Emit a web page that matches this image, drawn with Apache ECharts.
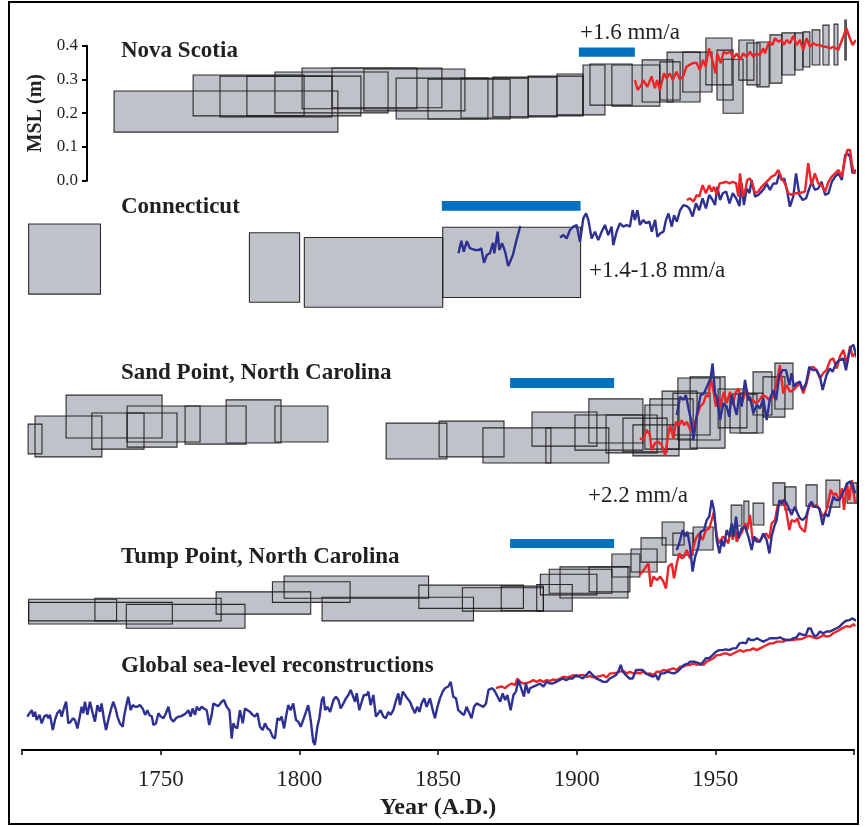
<!DOCTYPE html>
<html>
<head>
<meta charset="utf-8">
<script src="https://cdn.jsdelivr.net/npm/echarts@6/dist/echarts.min.js"></script>
<style>
  html, body { margin: 0; padding: 0; background: #fff; }
  #myChart { width: 867px; height: 827px; }
</style>
</head>
<body>
<div id="myChart"></div>
<script>
// box = [age from, age to, MSL top, MSL bottom] (m)
const nsBoxes = [
  [1733.2, 1813.9, 0.266, 0.144], [1761.7, 1801.7, 0.313, 0.192], [1771.4, 1811.8, 0.310, 0.189],
  [1781.1, 1822.2, 0.310, 0.192], [1791.2, 1832.0, 0.322, 0.201], [1801.0, 1842.4, 0.334, 0.213],
  [1811.8, 1851.4, 0.334, 0.216], [1823.3, 1859.7, 0.331, 0.207], [1834.9, 1868.0, 0.304, 0.183],
  [1846.4, 1876.0, 0.301, 0.183], [1858.3, 1882.5, 0.304, 0.186], [1869.8, 1892.9, 0.307, 0.189],
  [1882.5, 1902.3, 0.310, 0.192], [1892.9, 1902.3, 0.316, 0.195], [1902.3, 1910.2, 0.343, 0.195],
  [1904.8, 1920.0, 0.346, 0.224], [1912.7, 1930.0, 0.343, 0.221], [1923.6, 1934.7, 0.358, 0.233],
  [1930.0, 1937.3, 0.352, 0.239], [1932.6, 1944.5, 0.381, 0.233], [1938.3, 1948.8, 0.381, 0.263],
  [1946.6, 1956.0, 0.423, 0.284], [1950.6, 1956.4, 0.387, 0.239], [1952.8, 1960.0, 0.360, 0.200],
  [1958.5, 1963.9, 0.417, 0.298], [1961.4, 1966.1, 0.408, 0.284], [1965.0, 1969.4, 0.411, 0.278],
  [1969.7, 1974.0, 0.432, 0.289], [1974.0, 1978.7, 0.438, 0.313], [1978.7, 1981.6, 0.438, 0.328],
  [1981.6, 1984.1, 0.441, 0.337], [1984.9, 1987.7, 0.447, 0.343], [1988.8, 1991.0, 0.461, 0.343],
  [1992.8, 1994.2, 0.464, 0.343], [1996.7, 1997.2, 0.476, 0.358]
];
const nsRed = [
  [1921, 0.298], [1922, 0.269], [1923.4, 0.284], [1924, 0.298], [1925.5, 0.278], [1927, 0.309],
  [1928.2, 0.274], [1929, 0.298], [1930, 0.269], [1931.5, 0.318], [1932.4, 0.303], [1933.6, 0.318],
  [1934.6, 0.298], [1936, 0.323], [1937.2, 0.300], [1938.4, 0.309], [1939.6, 0.338], [1941.8, 0.348],
  [1943.2, 0.350], [1944.4, 0.328], [1945.6, 0.358], [1946.5, 0.338], [1947.7, 0.392], [1948.6, 0.367],
  [1950.1, 0.318], [1950.7, 0.377], [1951.9, 0.348], [1953, 0.382], [1954, 0.377], [1955.5, 0.382],
  [1956.5, 0.363], [1957.7, 0.377], [1958.9, 0.358], [1960, 0.377], [1961.3, 0.367], [1962.5, 0.382],
  [1963.7, 0.367], [1964.9, 0.377], [1966, 0.372], [1967.3, 0.392], [1967.9, 0.377], [1969.4, 0.412],
  [1970.6, 0.402], [1971.5, 0.422], [1972.7, 0.412], [1973.9, 0.417], [1974.7, 0.402], [1975.7, 0.417],
  [1976.9, 0.407], [1978.1, 0.429], [1979.3, 0.402], [1980.5, 0.417], [1981.7, 0.387], [1982.9, 0.422],
  [1984.1, 0.397], [1985.3, 0.407], [1986.5, 0.402], [1987.7, 0.402], [1988.9, 0.397], [1990.1, 0.397],
  [1991.3, 0.392], [1992.5, 0.397], [1994.3, 0.387], [1995.9, 0.422], [1997.3, 0.451], [1998.5, 0.422],
  [1999.5, 0.402], [2000.7, 0.417]
];

const ctBoxes = [
  [1702.4, 1728.3, 0.255, 0.047], [1782.0, 1800.1, 0.229, 0.023],
  [1801.8, 1851.7, 0.215, 0.008], [1851.7, 1901.4, 0.245, 0.037]
];
const ctBlueEarly = [
  [1857.4, 0.168], [1858.4, 0.205], [1859.3, 0.173], [1860.4, 0.204], [1861.5, 0.183], [1863.2, 0.178],
  [1864.8, 0.178], [1865.6, 0.183], [1866.6, 0.140], [1867.6, 0.163], [1868.7, 0.168], [1869.8, 0.199],
  [1870.3, 0.168], [1871.5, 0.232], [1872.1, 0.178], [1873.1, 0.198], [1874.2, 0.173], [1875.3, 0.130],
  [1877.0, 0.163], [1878.3, 0.207], [1879.7, 0.249]
];
const ctBlue = [
  [1894.0, 0.215], [1895.2, 0.222], [1896.4, 0.212], [1897.6, 0.237], [1898.8, 0.247], [1900.0, 0.252],
  [1901.2, 0.202], [1902.4, 0.272], [1903.4, 0.286], [1904.2, 0.267], [1905.4, 0.212], [1906.6, 0.232],
  [1907.8, 0.207], [1909.0, 0.232], [1910.2, 0.252], [1911.4, 0.222], [1912.6, 0.247], [1913.2, 0.192],
  [1914.4, 0.232], [1915.6, 0.257], [1916.8, 0.247], [1918.0, 0.252], [1919.2, 0.247], [1920.2, 0.296],
  [1921.0, 0.267], [1921.9, 0.296], [1922.8, 0.252], [1924.0, 0.267], [1925.0, 0.257], [1926.2, 0.262],
  [1927.1, 0.232], [1928.3, 0.267], [1929.1, 0.217], [1930.1, 0.227], [1931.3, 0.232], [1932.2, 0.267],
  [1933.1, 0.286], [1934.3, 0.247], [1935.1, 0.281], [1936.1, 0.262], [1937.3, 0.296], [1938.5, 0.311],
  [1939.7, 0.308], [1940.6, 0.301], [1941.8, 0.277], [1943.0, 0.316], [1944.2, 0.296], [1945.4, 0.331],
  [1946.6, 0.301], [1947.8, 0.341], [1949.0, 0.326], [1949.9, 0.311], [1950.7, 0.365], [1951.7, 0.326],
  [1952.7, 0.346], [1953.9, 0.351], [1955.1, 0.316], [1956.3, 0.346], [1957.5, 0.331], [1958.7, 0.308],
  [1959.5, 0.375], [1960.3, 0.311], [1961.3, 0.360], [1962.3, 0.346], [1963.1, 0.385], [1964.3, 0.336],
  [1965.5, 0.341], [1966.7, 0.351], [1967.6, 0.360], [1968.5, 0.375], [1969.7, 0.356], [1970.9, 0.375],
  [1972.1, 0.375], [1973.1, 0.405], [1973.9, 0.385], [1974.8, 0.390], [1975.7, 0.360], [1976.9, 0.306],
  [1978.1, 0.336], [1979.1, 0.405], [1980.3, 0.341], [1981.5, 0.326], [1982.7, 0.331], [1983.9, 0.360],
  [1984.7, 0.380], [1985.9, 0.356], [1987.1, 0.360], [1988.3, 0.380], [1989.6, 0.341], [1990.8, 0.346],
  [1992.0, 0.380], [1993.2, 0.395], [1994.4, 0.405], [1995.6, 0.385], [1996.8, 0.459], [1997.6, 0.464],
  [1998.6, 0.454], [1999.5, 0.405], [2000.7, 0.415]
];
const ctRed = [
  [1939.7, 0.326], [1940.9, 0.331], [1942.1, 0.321], [1943.3, 0.341], [1944.2, 0.336], [1945.4, 0.370],
  [1946.6, 0.346], [1947.8, 0.370], [1948.7, 0.351], [1949.5, 0.365], [1950.5, 0.341], [1951.5, 0.375],
  [1952.7, 0.377], [1953.9, 0.380], [1955.1, 0.375], [1956.3, 0.380], [1957.5, 0.375], [1958.3, 0.336],
  [1958.9, 0.405], [1959.9, 0.336], [1960.7, 0.351], [1961.5, 0.385], [1962.5, 0.390], [1963.5, 0.370],
  [1964.3, 0.346], [1965.5, 0.351], [1966.7, 0.365], [1967.9, 0.375], [1969.1, 0.385], [1970.3, 0.395],
  [1971.5, 0.400], [1972.7, 0.415], [1973.9, 0.390], [1975.1, 0.375], [1976.3, 0.346], [1977.5, 0.341],
  [1978.7, 0.346], [1979.9, 0.346], [1981.1, 0.348], [1982.3, 0.351], [1983.5, 0.435], [1984.7, 0.370],
  [1985.9, 0.405], [1987.1, 0.375], [1988.3, 0.370], [1989.6, 0.351], [1990.8, 0.380], [1992.0, 0.395],
  [1993.2, 0.405], [1994.4, 0.415], [1995.6, 0.395], [1996.8, 0.449], [1997.6, 0.474], [1998.6, 0.474],
  [1999.2, 0.435], [2000.0, 0.405], [2000.7, 0.410]
];

const spBoxes = [
  [1702.2, 1707.2, 0.121, 0.033], [1704.7, 1728.8, 0.145, 0.024], [1715.9, 1750.5, 0.207, 0.080],
  [1725.2, 1744.0, 0.154, 0.047], [1737.9, 1755.9, 0.154, 0.053], [1737.9, 1764.2, 0.175, 0.068],
  [1758.8, 1780.8, 0.175, 0.062], [1773.6, 1793.4, 0.193, 0.065], [1791.2, 1810.3, 0.175, 0.068],
  [1831.3, 1853.2, 0.124, 0.018], [1850.4, 1873.8, 0.130, 0.024], [1866.2, 1890.7, 0.110, 0.006],
  [1883.9, 1907.3, 0.157, 0.056], [1888.9, 1911.6, 0.110, 0.006], [1899.4, 1923.9, 0.148, 0.044],
  [1904.4, 1923.9, 0.196, 0.065], [1910.6, 1929.0, 0.148, 0.036], [1916.7, 1932.6, 0.139, 0.039],
  [1920.3, 1936.9, 0.119, 0.027], [1924.6, 1936.9, 0.178, 0.047], [1926.4, 1942.0, 0.196, 0.077],
  [1930.8, 1943.4, 0.219, 0.047], [1934.7, 1948.1, 0.213, 0.089], [1936.5, 1951.7, 0.258, 0.074],
  [1940.9, 1953.5, 0.261, 0.050], [1951.0, 1961.4, 0.225, 0.110], [1955.3, 1965.0, 0.210, 0.095],
  [1958.9, 1967.2, 0.213, 0.095], [1963.6, 1970.4, 0.276, 0.148], [1967.2, 1975.1, 0.261, 0.142],
  [1971.5, 1978.0, 0.302, 0.166]
];
const spBlue = [
  [1936.1, 0.148], [1937.3, 0.202], [1938.5, 0.193], [1939.4, 0.207], [1940.3, 0.168], [1941.5, 0.123],
  [1942.1, 0.074], [1943.3, 0.148], [1944.7, 0.207], [1945.9, 0.212], [1947.5, 0.242], [1948.3, 0.257],
  [1949.0, 0.301], [1949.9, 0.212], [1950.7, 0.197], [1951.7, 0.133], [1952.9, 0.183], [1954.1, 0.173],
  [1955.0, 0.143], [1955.9, 0.207], [1956.7, 0.178], [1957.7, 0.148], [1958.7, 0.212], [1959.5, 0.173],
  [1960.7, 0.252], [1961.9, 0.192], [1962.5, 0.202], [1963.7, 0.153], [1964.9, 0.178], [1966.1, 0.168],
  [1967.3, 0.197], [1968.5, 0.133], [1969.7, 0.197], [1970.9, 0.222], [1971.9, 0.192], [1973.1, 0.267],
  [1974.3, 0.281], [1975.5, 0.281], [1976.7, 0.237], [1977.5, 0.272], [1978.4, 0.232], [1979.3, 0.242],
  [1980.5, 0.247], [1981.5, 0.222], [1982.7, 0.242], [1983.9, 0.291], [1985.1, 0.281], [1986.5, 0.281],
  [1987.7, 0.262], [1988.7, 0.222], [1990.1, 0.267], [1991.3, 0.286], [1992.3, 0.276], [1993.5, 0.301],
  [1994.7, 0.311], [1996.2, 0.316], [1997.1, 0.281], [1998.0, 0.321], [1998.8, 0.350], [1999.8, 0.356],
  [2001.0, 0.318]
];
const spRed = [
  [1922.8, 0.079], [1924.0, 0.074], [1925.2, 0.104], [1926.4, 0.089], [1927.0, 0.044], [1928.2, 0.064],
  [1929.4, 0.069], [1930.7, 0.059], [1931.9, 0.029], [1932.7, 0.074], [1933.7, 0.118], [1934.3, 0.113],
  [1934.9, 0.079], [1935.8, 0.128], [1937.0, 0.118], [1937.9, 0.133], [1938.7, 0.118], [1939.7, 0.128],
  [1940.9, 0.104], [1942.1, 0.113], [1943.3, 0.143], [1944.5, 0.173], [1945.7, 0.183], [1946.6, 0.207],
  [1947.5, 0.202], [1948.3, 0.257], [1949.3, 0.222], [1950.2, 0.173], [1951.1, 0.202], [1951.9, 0.173],
  [1953.1, 0.217], [1954.1, 0.183], [1955.3, 0.217], [1956.3, 0.178], [1957.2, 0.212], [1958.3, 0.227],
  [1959.5, 0.183], [1960.7, 0.212], [1961.3, 0.222], [1962.3, 0.192], [1963.5, 0.192], [1964.7, 0.183],
  [1965.9, 0.192], [1967.1, 0.207], [1968.3, 0.202], [1969.5, 0.192], [1970.9, 0.202], [1972.1, 0.242],
  [1973.3, 0.296], [1974.5, 0.212], [1975.7, 0.237], [1976.9, 0.217], [1978.1, 0.222], [1979.3, 0.232],
  [1980.5, 0.242], [1981.7, 0.212], [1982.9, 0.242], [1984.1, 0.286], [1985.3, 0.291], [1986.5, 0.281],
  [1987.7, 0.257], [1988.9, 0.272], [1990.1, 0.281], [1991.4, 0.311], [1992.5, 0.316], [1993.8, 0.286],
  [1994.9, 0.321], [1996.2, 0.341], [1997.4, 0.301], [1998.6, 0.352], [1999.5, 0.321], [2000.4, 0.331]
];

const tpBoxes = [
  [1702.4, 1734.1, 0.091, 0.027], [1702.4, 1754.2, 0.082, 0.018], [1726.3, 1771.8, 0.094, 0.027],
  [1737.6, 1780.4, 0.076, 0.005], [1770.0, 1804.1, 0.113, 0.047], [1790.3, 1818.3, 0.143, 0.082],
  [1794.5, 1846.6, 0.160, 0.094], [1808.2, 1862.8, 0.097, 0.027], [1843.1, 1880.8, 0.133, 0.064],
  [1858.8, 1888.0, 0.125, 0.056], [1872.8, 1888.0, 0.130, 0.057], [1885.6, 1898.4, 0.135, 0.056],
  [1886.9, 1907.3, 0.165, 0.104], [1890.1, 1912.7, 0.180, 0.109], [1894.0, 1918.5, 0.187, 0.095],
  [1904.5, 1919.2, 0.187, 0.113], [1912.7, 1922.8, 0.225, 0.157], [1919.6, 1929.0, 0.240, 0.172],
  [1923.2, 1932.2, 0.273, 0.201], [1930.8, 1938.7, 0.320, 0.252], [1934.7, 1942.0, 0.287, 0.222],
  [1942.0, 1949.2, 0.305, 0.237], [1955.7, 1959.6, 0.370, 0.308], [1960.3, 1962.1, 0.382, 0.314],
  [1963.6, 1967.5, 0.376, 0.311], [1970.8, 1975.1, 0.436, 0.370], [1975.1, 1979.1, 0.424, 0.356],
  [1982.7, 1986.7, 0.430, 0.367], [1989.9, 1994.9, 0.444, 0.364], [1997.5, 2001.1, 0.436, 0.376]
];
const tpBlue = [
  [1936.1, 0.237], [1937.0, 0.257], [1938.2, 0.296], [1939.1, 0.277], [1939.9, 0.291], [1940.9, 0.247],
  [1941.8, 0.173], [1942.7, 0.217], [1943.9, 0.247], [1944.7, 0.291], [1945.9, 0.296], [1946.9, 0.326],
  [1947.8, 0.336], [1948.7, 0.385], [1949.5, 0.356], [1950.5, 0.267], [1951.5, 0.227], [1952.3, 0.267],
  [1953.1, 0.247], [1954.1, 0.296], [1955.1, 0.277], [1955.9, 0.316], [1956.5, 0.277], [1957.5, 0.336],
  [1958.3, 0.272], [1959.5, 0.301], [1960.7, 0.306], [1961.9, 0.277], [1963.1, 0.237], [1964.0, 0.277],
  [1964.9, 0.262], [1966.1, 0.262], [1967.3, 0.286], [1968.5, 0.267], [1969.5, 0.227], [1970.3, 0.277],
  [1971.2, 0.306], [1972.1, 0.326], [1973.1, 0.385], [1973.9, 0.375], [1974.8, 0.385], [1975.7, 0.375],
  [1976.7, 0.356], [1977.5, 0.341], [1978.7, 0.365], [1979.6, 0.346], [1980.5, 0.331], [1981.5, 0.326],
  [1982.7, 0.336], [1983.9, 0.370], [1984.7, 0.380], [1985.6, 0.365], [1986.5, 0.365], [1987.5, 0.360],
  [1988.7, 0.311], [1989.6, 0.346], [1990.8, 0.336], [1991.6, 0.365], [1992.6, 0.395], [1993.5, 0.385],
  [1994.7, 0.385], [1995.6, 0.400], [1996.8, 0.420], [1997.6, 0.435], [1998.6, 0.440], [1999.5, 0.430],
  [2000.4, 0.405]
];
const tpRed = [
  [1922.6, 0.163], [1923.8, 0.173], [1925.0, 0.188], [1925.9, 0.197], [1926.7, 0.128], [1927.7, 0.158],
  [1928.9, 0.148], [1930.1, 0.158], [1931.3, 0.143], [1932.2, 0.123], [1933.1, 0.188], [1934.3, 0.197],
  [1935.1, 0.153], [1936.1, 0.197], [1937.0, 0.227], [1937.9, 0.212], [1938.7, 0.217], [1939.7, 0.237],
  [1940.9, 0.212], [1941.8, 0.237], [1943.0, 0.272], [1944.2, 0.286], [1945.4, 0.267], [1946.6, 0.296],
  [1947.8, 0.301], [1948.7, 0.326], [1949.5, 0.351], [1950.5, 0.277], [1951.5, 0.257], [1952.7, 0.277],
  [1953.9, 0.267], [1954.7, 0.257], [1955.5, 0.301], [1956.3, 0.267], [1957.1, 0.306], [1957.7, 0.262],
  [1958.7, 0.277], [1959.9, 0.296], [1960.7, 0.316], [1961.5, 0.296], [1962.5, 0.341], [1963.5, 0.262],
  [1964.7, 0.272], [1965.9, 0.262], [1967.1, 0.277], [1968.3, 0.286], [1969.5, 0.272], [1970.3, 0.316],
  [1971.5, 0.326], [1972.4, 0.365], [1973.3, 0.375], [1974.3, 0.385], [1975.5, 0.356], [1976.7, 0.296],
  [1977.5, 0.326], [1978.7, 0.321], [1979.6, 0.331], [1980.5, 0.306], [1981.5, 0.296], [1982.3, 0.291],
  [1983.2, 0.346], [1984.1, 0.375], [1985.3, 0.365], [1986.5, 0.370], [1987.5, 0.360], [1988.7, 0.336],
  [1989.6, 0.346], [1990.4, 0.365], [1991.6, 0.415], [1992.6, 0.400], [1993.5, 0.405], [1994.7, 0.385],
  [1995.6, 0.420], [1996.4, 0.356], [1997.4, 0.435], [1998.3, 0.385], [1999.2, 0.444], [1999.8, 0.449],
  [2000.4, 0.375]
];

const globalBlue = [
  [1701.9, 0.099], [1702.6, 0.094], [1703.5, 0.118], [1704.1, 0.099], [1704.7, 0.113], [1705.3, 0.089],
  [1706.3, 0.104], [1707.1, 0.079], [1708.0, 0.099], [1708.9, 0.104], [1709.5, 0.094], [1710.1, 0.104],
  [1711.1, 0.059], [1711.9, 0.089], [1712.7, 0.109], [1713.7, 0.118], [1714.3, 0.099], [1715.1, 0.123],
  [1715.9, 0.143], [1716.7, 0.079], [1717.6, 0.084], [1718.3, 0.094], [1719.1, 0.089], [1720.0, 0.064],
  [1720.7, 0.069], [1721.5, 0.128], [1722.1, 0.109], [1722.7, 0.143], [1723.6, 0.104], [1724.5, 0.143],
  [1725.5, 0.109], [1726.3, 0.084], [1727.2, 0.133], [1728.1, 0.113], [1728.7, 0.138], [1729.6, 0.089],
  [1730.3, 0.059], [1731.1, 0.089], [1732.0, 0.118], [1732.9, 0.143], [1733.9, 0.118], [1734.4, 0.099],
  [1735.3, 0.079], [1736.3, 0.069], [1736.8, 0.099], [1737.5, 0.128], [1738.3, 0.158], [1739.2, 0.118],
  [1739.9, 0.133], [1740.8, 0.128], [1741.6, 0.128], [1742.5, 0.133], [1743.5, 0.123], [1744.4, 0.104],
  [1745.2, 0.118], [1745.9, 0.104], [1746.8, 0.099], [1747.4, 0.074], [1748.3, 0.079], [1749.2, 0.109],
  [1750.0, 0.099], [1751.0, 0.094], [1751.9, 0.109], [1752.8, 0.128], [1753.6, 0.094], [1754.6, 0.084],
  [1755.5, 0.094], [1756.4, 0.099], [1757.2, 0.099], [1758.2, 0.104], [1759.1, 0.109], [1760.0, 0.118],
  [1760.8, 0.099], [1761.5, 0.123], [1762.4, 0.104], [1763.0, 0.128], [1763.9, 0.118], [1764.8, 0.128],
  [1765.6, 0.123], [1766.6, 0.118], [1767.5, 0.074], [1768.4, 0.104], [1769.0, 0.138], [1770.0, 0.133],
  [1770.8, 0.130], [1772.0, 0.143], [1772.8, 0.148], [1773.8, 0.128], [1774.8, 0.118], [1775.6, 0.034],
  [1776.2, 0.079], [1776.8, 0.069], [1777.6, 0.064], [1778.6, 0.118], [1779.6, 0.079], [1780.4, 0.123],
  [1781.3, 0.118], [1782.2, 0.113], [1783.2, 0.104], [1784.0, 0.099], [1784.9, 0.109], [1785.8, 0.069],
  [1786.8, 0.059], [1787.6, 0.079], [1788.5, 0.064], [1789.4, 0.059], [1790.4, 0.039], [1791.2, 0.034],
  [1792.1, 0.094], [1793.0, 0.089], [1793.6, 0.099], [1794.5, 0.064], [1795.2, 0.099], [1796.0, 0.133],
  [1796.9, 0.118], [1797.8, 0.138], [1798.8, 0.089], [1799.6, 0.084], [1800.5, 0.069], [1801.4, 0.089],
  [1802.4, 0.113], [1803.2, 0.133], [1804.1, 0.089], [1805.0, 0.025], [1805.6, 0.015], [1806.5, 0.069],
  [1807.2, 0.094], [1808.1, 0.148], [1808.7, 0.158], [1809.3, 0.118], [1810.1, 0.128], [1811.1, 0.113],
  [1812.3, 0.148], [1813.2, 0.158], [1814.1, 0.148], [1814.9, 0.123], [1815.9, 0.138], [1816.8, 0.153],
  [1817.7, 0.163], [1818.5, 0.178], [1819.2, 0.163], [1820.1, 0.143], [1820.7, 0.168], [1821.6, 0.118],
  [1822.5, 0.143], [1823.3, 0.163], [1824.3, 0.163], [1824.9, 0.173], [1825.7, 0.133], [1826.7, 0.163],
  [1827.6, 0.099], [1828.5, 0.109], [1829.3, 0.118], [1830.3, 0.099], [1831.2, 0.094], [1832.1, 0.113],
  [1832.9, 0.104], [1833.9, 0.118], [1834.9, 0.148], [1835.7, 0.168], [1836.3, 0.133], [1837.3, 0.173],
  [1838.1, 0.163], [1838.9, 0.153], [1839.9, 0.143], [1840.9, 0.123], [1841.7, 0.109], [1842.5, 0.128],
  [1843.3, 0.113], [1844.1, 0.138], [1845.0, 0.153], [1845.9, 0.128], [1847.1, 0.153], [1848.1, 0.118],
  [1848.9, 0.094], [1849.8, 0.128], [1850.7, 0.153], [1851.7, 0.173], [1852.5, 0.183], [1853.7, 0.188],
  [1854.6, 0.202], [1855.5, 0.158], [1856.5, 0.153], [1857.3, 0.118], [1858.5, 0.109], [1859.4, 0.104],
  [1860.3, 0.128], [1861.3, 0.109], [1862.1, 0.094], [1863.0, 0.128], [1863.9, 0.138], [1865.1, 0.133],
  [1866.4, 0.128], [1867.3, 0.138], [1868.2, 0.178], [1869.4, 0.183], [1870.2, 0.178], [1871.2, 0.163],
  [1872.4, 0.143], [1873.3, 0.168], [1874.2, 0.148], [1875.0, 0.163], [1876.2, 0.118], [1877.2, 0.163],
  [1878.1, 0.173], [1879.0, 0.207], [1880.2, 0.178], [1881.0, 0.158], [1881.7, 0.197], [1882.6, 0.168],
  [1883.2, 0.183], [1884.4, 0.188], [1885.6, 0.192], [1886.8, 0.197], [1888.0, 0.188], [1889.2, 0.202],
  [1890.4, 0.197], [1891.4, 0.197], [1892.6, 0.202], [1893.8, 0.207], [1895.0, 0.212], [1896.2, 0.207],
  [1897.4, 0.212], [1898.6, 0.212], [1899.8, 0.222], [1901.0, 0.217], [1902.2, 0.212], [1903.4, 0.222],
  [1904.6, 0.232], [1905.8, 0.222], [1907.0, 0.212], [1908.4, 0.207], [1909.6, 0.202], [1910.8, 0.202],
  [1912.0, 0.212], [1913.2, 0.217], [1914.2, 0.222], [1915.0, 0.232], [1915.9, 0.252], [1916.6, 0.232],
  [1917.8, 0.222], [1919.0, 0.212], [1920.2, 0.212], [1921.4, 0.237], [1922.6, 0.237], [1923.8, 0.237],
  [1925.0, 0.227], [1926.2, 0.222], [1927.4, 0.217], [1928.6, 0.222], [1929.4, 0.207], [1930.3, 0.227],
  [1931.5, 0.227], [1932.7, 0.232], [1933.9, 0.229], [1935.1, 0.227], [1936.3, 0.232], [1937.5, 0.242],
  [1938.7, 0.252], [1939.9, 0.255], [1941.1, 0.262], [1942.3, 0.262], [1943.5, 0.259], [1944.7, 0.252],
  [1945.7, 0.262], [1946.6, 0.272], [1947.8, 0.272], [1949.0, 0.281], [1950.2, 0.291], [1951.4, 0.296],
  [1952.6, 0.296], [1953.8, 0.298], [1955.0, 0.296], [1956.3, 0.301], [1957.5, 0.301], [1958.7, 0.316],
  [1959.9, 0.318], [1961.1, 0.316], [1961.9, 0.331], [1962.7, 0.326], [1963.9, 0.326], [1965.1, 0.331],
  [1966.1, 0.326], [1967.3, 0.321], [1968.5, 0.326], [1969.7, 0.331], [1970.9, 0.331], [1972.1, 0.331],
  [1973.3, 0.334], [1974.5, 0.328], [1975.7, 0.326], [1976.9, 0.326], [1978.1, 0.331], [1979.3, 0.334],
  [1980.3, 0.346], [1981.5, 0.341], [1982.7, 0.341], [1983.5, 0.360], [1984.4, 0.360], [1985.1, 0.346],
  [1985.9, 0.336], [1986.8, 0.341], [1987.7, 0.351], [1988.9, 0.346], [1990.1, 0.351], [1991.4, 0.351],
  [1992.5, 0.356], [1993.5, 0.360], [1994.7, 0.365], [1995.9, 0.375], [1997.1, 0.383], [1998.3, 0.385],
  [1999.5, 0.390], [2000.7, 0.383]
];
const globalRed = [
  [1870.9, 0.183], [1871.8, 0.186], [1873.0, 0.188], [1874.2, 0.183], [1875.4, 0.192], [1876.6, 0.197],
  [1877.8, 0.192], [1878.6, 0.212], [1879.6, 0.202], [1880.8, 0.197], [1882.0, 0.199], [1883.2, 0.202],
  [1884.4, 0.207], [1885.6, 0.202], [1886.8, 0.207], [1888.0, 0.202], [1889.2, 0.207], [1890.4, 0.205],
  [1891.6, 0.209], [1892.8, 0.207], [1894.0, 0.212], [1895.2, 0.217], [1896.4, 0.215], [1897.6, 0.217],
  [1898.8, 0.222], [1900.0, 0.217], [1901.2, 0.222], [1902.4, 0.222], [1903.6, 0.217], [1904.8, 0.219],
  [1906.0, 0.215], [1907.2, 0.217], [1908.4, 0.219], [1909.6, 0.222], [1910.8, 0.215], [1912.0, 0.227],
  [1913.2, 0.227], [1914.4, 0.229], [1915.6, 0.232], [1916.8, 0.235], [1918.0, 0.227], [1919.2, 0.232],
  [1920.4, 0.227], [1921.6, 0.229], [1922.8, 0.227], [1924.0, 0.232], [1925.2, 0.225], [1926.4, 0.227],
  [1927.6, 0.222], [1928.9, 0.232], [1930.1, 0.232], [1931.3, 0.237], [1932.5, 0.235], [1933.7, 0.239],
  [1934.9, 0.242], [1936.1, 0.237], [1937.3, 0.247], [1938.5, 0.247], [1939.7, 0.252], [1940.9, 0.252],
  [1942.1, 0.257], [1943.3, 0.252], [1944.5, 0.257], [1945.7, 0.252], [1946.9, 0.262], [1948.1, 0.267],
  [1949.3, 0.272], [1950.5, 0.281], [1951.7, 0.281], [1952.9, 0.286], [1954.1, 0.286], [1955.3, 0.281],
  [1956.5, 0.286], [1957.7, 0.291], [1958.9, 0.296], [1960.1, 0.291], [1961.3, 0.296], [1962.5, 0.296],
  [1963.7, 0.301], [1964.9, 0.296], [1966.1, 0.301], [1967.3, 0.306], [1968.5, 0.311], [1969.7, 0.316],
  [1970.9, 0.316], [1972.1, 0.321], [1973.3, 0.321], [1974.5, 0.321], [1975.7, 0.326], [1976.9, 0.326],
  [1978.1, 0.326], [1979.3, 0.328], [1980.5, 0.328], [1981.7, 0.331], [1982.9, 0.336], [1984.1, 0.338],
  [1985.3, 0.334], [1986.5, 0.331], [1987.7, 0.334], [1988.9, 0.341], [1990.1, 0.336], [1991.3, 0.338],
  [1992.5, 0.346], [1993.7, 0.351], [1994.9, 0.356], [1996.2, 0.363], [1997.4, 0.367], [1998.6, 0.365],
  [1999.8, 0.373], [2000.4, 0.367]
];

// blue bars: period used for the rate [from, to, top, bottom]
const nsPeriod = [[1900.8, 1921.0, 0.395, 0.367]];
const ctPeriod = [[1851.4, 1901.4, 0.323, 0.294]];
const spPeriod = [[1876.0, 1913.5, 0.258, 0.228]];
const tpPeriod = [[1876.0, 1913.5, 0.270, 0.243]];

const panelNames = ['Nova Scotia', 'Connecticut', 'Sand Point, North Carolina',
  'Tump Point, North Carolina', 'Global sea-level reconstructions'];
const rateLabels = ['+1.6 mm/a', '+1.4-1.8 mm/a', '+2.2 mm/a'];

const FONT = '"Liberation Serif", "Times New Roman", serif';
const INK = '#231f20';
const RED = '#ed2529';
const BLUE = '#2e3192';
const BAR = '#0071bc';

function rectItem(fill, stroke, lw) {
  return function (params, api) {
    const a = api.coord([api.value(0), api.value(2)]);
    const b = api.coord([api.value(1), api.value(3)]);
    return {
      type: 'rect',
      shape: { x: a[0], y: a[1], width: b[0] - a[0], height: b[1] - a[1] },
      style: { fill: fill, stroke: stroke, lineWidth: lw }
    };
  };
}

function boxes(i, data) {
  return [
    { type: 'custom', xAxisIndex: i, yAxisIndex: i, data: data, encode: { x: [0, 1], y: [2, 3] },
      renderItem: rectItem('#c0c2c9', null, 0), z: 2, silent: true },
    { type: 'custom', xAxisIndex: i, yAxisIndex: i, data: data, encode: { x: [0, 1], y: [2, 3] },
      renderItem: rectItem('none', 'rgba(25,25,25,0.9)', 1.1), z: 3, silent: true }
  ];
}
function period(i, data) {
  return { type: 'custom', xAxisIndex: i, yAxisIndex: i, data: data, encode: { x: [0, 1], y: [2, 3] },
    renderItem: rectItem(BAR, null, 0), z: 4, silent: true };
}
function line(i, data, color) {
  return { type: 'line', xAxisIndex: i, yAxisIndex: i, data: data, symbol: 'none', clip: false,
    lineStyle: { color: color, width: 2.4 }, z: 5, silent: true };
}

const gridTops = [45.7, 175, 330, 495, 615];

let myChart = echarts.init(document.getElementById('myChart'));
myChart.setOption({
  animation: false,
  backgroundColor: '#fff',
  grid: gridTops.map(t => ({ left: 22, right: 13, top: t, height: 135 })),
  xAxis: gridTops.map((t, i) => ({
    gridIndex: i, type: 'value', min: 1700, max: 2000, interval: 50,
    show: i === 4, offset: 6,
    axisLine: { show: true, lineStyle: { color: '#000', width: 2 } },
    axisTick: { show: true, length: 5, lineStyle: { color: '#000', width: 1.5 } },
    axisLabel: {
      fontFamily: FONT, fontSize: 23, color: INK, margin: 12,
      formatter: v => (v === 1700 || v === 2000) ? '' : String(v)
    },
    splitLine: { show: false },
    name: i === 4 ? 'Year (A.D.)' : '',
    nameLocation: 'middle', nameGap: 40,
    nameTextStyle: { fontFamily: FONT, fontSize: 24, fontWeight: 'bold', color: INK }
  })),
  yAxis: gridTops.map((t, i) => ({
    gridIndex: i, type: 'value', min: 0, max: 0.4, interval: 0.1,
    show: i === 0, offset: -65,
    axisLine: { show: true, lineStyle: { color: '#000', width: 2 } },
    axisTick: { show: true, length: 5, lineStyle: { color: '#000', width: 2 } },
    axisLabel: { fontFamily: FONT, fontSize: 17, color: INK, margin: 9, formatter: v => v.toFixed(1) },
    splitLine: { show: false },
    name: 'MSL (m)', nameLocation: 'middle', nameGap: 33, nameRotate: 90,
    nameTextStyle: { fontFamily: FONT, fontSize: 20, fontWeight: 'bold', color: INK }
  })),
  graphic: [
    { type: 'rect', shape: { x: 9, y: 2, width: 849, height: 822 },
      style: { fill: 'none', stroke: '#000', lineWidth: 2 }, z: 0 },
    ...panelNames.map((n, i) => ({
      type: 'text', x: 121, y: [51, 207, 373, 557, 666][i], z: 10,
      style: { text: n, font: 'bold 23px ' + FONT, fill: INK, textVerticalAlign: 'middle', verticalAlign: 'middle' }
    })),
    ...rateLabels.map((n, i) => ({
      type: 'text', x: [580, 589, 588][i], y: [33, 271, 496][i], z: 10,
      style: { text: n, font: '23px ' + FONT, fill: INK, textVerticalAlign: 'middle', verticalAlign: 'middle' }
    }))
  ],
  series: [
    ...boxes(0, nsBoxes), period(0, nsPeriod), line(0, nsRed, RED),
    ...boxes(1, ctBoxes), period(1, ctPeriod), line(1, ctBlueEarly, BLUE), line(1, ctBlue, BLUE), line(1, ctRed, RED),
    ...boxes(2, spBoxes), period(2, spPeriod), line(2, spRed, RED), line(2, spBlue, BLUE),
    ...boxes(3, tpBoxes), period(3, tpPeriod), line(3, tpRed, RED), line(3, tpBlue, BLUE),
    line(4, globalRed, RED), line(4, globalBlue, BLUE)
  ]
});
</script>
</body>
</html>
